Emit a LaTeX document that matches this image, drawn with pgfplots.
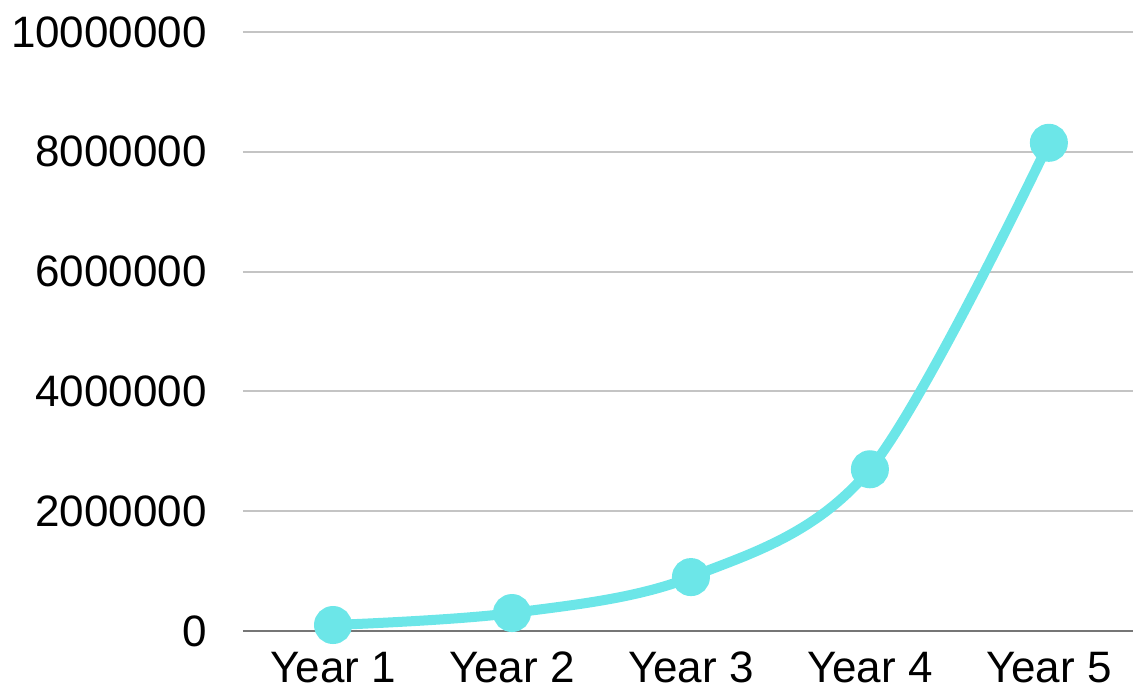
\documentclass[border=0pt]{standalone}
\usepackage{pgfplots}
\pgfplotsset{compat=1.18}
\usepackage{fontspec}
\setmainfont{Liberation Sans}
\definecolor{linec}{HTML}{6CE6E8}
\definecolor{gridc}{HTML}{C4C4C4}
\definecolor{basec}{HTML}{767676}
\begin{document}
\begin{tikzpicture}[x=1bp,y=1bp]
\begin{axis}[
  at={(0,0)}, anchor=origin,
  scale only axis,
  width=890bp, height=599bp,
  xmin=0.497, xmax=5.47,
  ymin=0, ymax=10000000,
  axis line style={draw=none},
  scaled y ticks=false,
  ytick={0,2000000,4000000,6000000,8000000,10000000},
  yticklabels={0,2000000,4000000,6000000,8000000,10000000},
  xtick={1,2,3,4,5},
  xticklabels={Year 1,Year 2,Year 3,Year 4,Year 5},
  major tick length=0pt,
  ymajorgrids,
  grid style={draw=gridc, line width=2bp},
  tick label style={font=\fontsize{44bp}{52bp}\selectfont, text=black},
  yticklabel style={anchor=east, inner sep=0pt, xshift=-36bp},
  xticklabel style={anchor=base, inner sep=0pt, yshift=-51bp},
  clip=false,
]
\draw[basec, line width=2bp] (axis cs:0.497,0) -- (axis cs:5.47,0);
\addplot[linec, line width=10bp, smooth, tension=0.55, mark=*, mark size=14bp,
  mark options={fill=linec, draw=none}]
  coordinates {(1,100000) (2,300000) (3,900000) (4,2700000) (5,8150000)};
\end{axis}
\pgfresetboundingbox
\path[use as bounding box] (-243bp,-62bp) rectangle (890bp,631bp);
\end{tikzpicture}
\end{document}
